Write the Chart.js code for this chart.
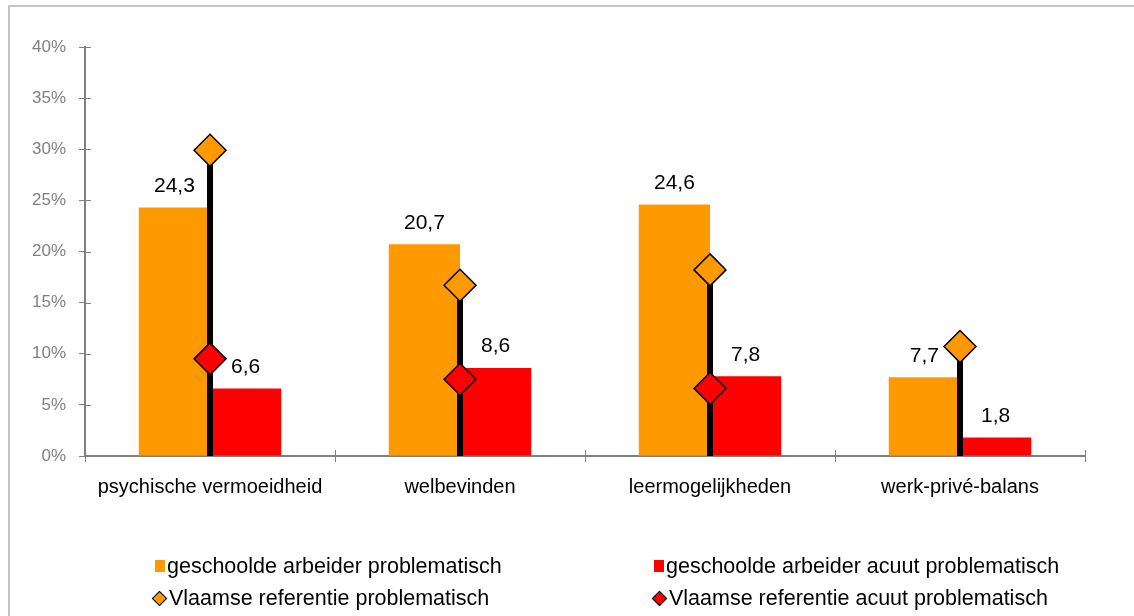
<!DOCTYPE html>
<html lang="nl">
<head>
<meta charset="UTF-8">
<title>Geschoolde arbeider - werkbaarheid</title>
<script src="https://cdn.jsdelivr.net/npm/chart.js"></script>
<style>
  body { margin: 0; background: #fff; font-family: "Liberation Sans", Arial, sans-serif; }
  #wrap { position: relative; width: 1134px; height: 616px; overflow: hidden; }
  #frame { position: absolute; left: 8px; top: 5px; width: 1200px; height: 700px;
           border-left: 2px solid #c4c4c4; border-top: 2px solid #c4c4c4; }
  #chart { position: absolute; left: 0; top: 0; }
  .item { position: absolute; font-size: 21.5px; color: #000; white-space: nowrap;
          display: flex; align-items: center; height: 24px; }
  .sq { display: inline-block; width: 10px; height: 12px; margin-right: 2px; }
  .dia { display: inline-block; width: 9px; height: 9px; border: 1.5px solid #000;
         transform: rotate(45deg); margin: 0 4px 0 2px; }
</style>
</head>
<body>
<div id="wrap">
  <div id="frame"></div>
  <canvas id="chart" width="1134" height="616"></canvas>
  <div id="legend"></div>
</div>

<script>
  const categories = ['psychische vermoeidheid', 'welbevinden', 'leermogelijkheden', 'werk-privé-balans'];
  const arbeiderProblematisch = [24.3, 20.7, 24.6, 7.7];
  const arbeiderAcuut = [6.6, 8.6, 7.8, 1.8];
  const refProblematisch = [29.9, 16.7, 18.2, 10.7];
  const refAcuut = [9.5, 7.5, 6.6, null];

  const ORANJE = '#FF9900';
  const ROOD = '#FF0000';
  const GRIJS = '#808080';

  // zwarte staaf van 0 tot de referentiewaarde, tussen de balken en de ruiten
  const stemPlugin = {
    id: 'stems',
    afterDatasetDraw(chart, args) {
      if (args.index !== 0) return;
      const { ctx, scales: { x, y } } = chart;
      ctx.save();
      ctx.strokeStyle = '#000';
      ctx.lineWidth = 6;
      refProblematisch.forEach((v, i) => {
        const px = x.getPixelForValue(i);
        ctx.beginPath();
        ctx.moveTo(px, y.getPixelForValue(0));
        ctx.lineTo(px, y.getPixelForValue(v));
        ctx.stroke();
      });
      ctx.restore();
    }
  };

  // waarden boven de balken
  const labelPlugin = {
    id: 'barLabels',
    afterDatasetsDraw(chart) {
      const ctx = chart.ctx;
      ctx.save();
      ctx.fillStyle = '#000';
      ctx.font = '21px "Liberation Sans", Arial, sans-serif';
      ctx.textAlign = 'center';
      ctx.textBaseline = 'bottom';
      [0, 1].forEach(d => {
        const meta = chart.getDatasetMeta(d);
        meta.data.forEach((bar, i) => {
          const v = chart.data.datasets[d].data[i];
          ctx.fillText(v.toFixed(1).replace('.', ','), bar.x, bar.y - 11);
        });
      });
      ctx.restore();
    }
  };

  // tickstreepjes die ook naar binnen steken
  const innerTicks = {
    id: 'innerTicks',
    afterDraw(chart) {
      const { ctx, scales: { x, y } } = chart;
      ctx.save();
      ctx.strokeStyle = GRIJS;
      ctx.lineWidth = 1;
      y.ticks.forEach((t, i) => {
        const py = Math.round(y.getPixelForTick(i)) + 0.5;
        ctx.beginPath();
        ctx.moveTo(x.left, py);
        ctx.lineTo(x.left + 6, py);
        ctx.stroke();
      });
      const bottom = y.getPixelForValue(0);
      for (let i = 0; i <= categories.length; i++) {
        const px = Math.round(x.getPixelForValue(i - 0.5)) + 0.5;
        ctx.beginPath();
        ctx.moveTo(px, bottom);
        ctx.lineTo(px, bottom - 6);
        ctx.stroke();
      }
      ctx.restore();
    }
  };

  const chart = new Chart(document.getElementById('chart'), {
    data: {
      labels: categories,
      datasets: [
        { type: 'bar', label: 'geschoolde arbeider problematisch', data: arbeiderProblematisch,
          backgroundColor: ORANJE, order: 2, categoryPercentage: 0.57, barPercentage: 1 },
        { type: 'bar', label: 'geschoolde arbeider acuut problematisch', data: arbeiderAcuut,
          backgroundColor: ROOD, order: 2, categoryPercentage: 0.57, barPercentage: 1 },
        { type: 'line', label: 'Vlaamse referentie problematisch', data: refProblematisch,
          showLine: false, pointStyle: 'rectRot', pointRadius: 16, pointHoverRadius: 16,
          pointBackgroundColor: ORANJE, pointBorderColor: '#000', pointBorderWidth: 1.5, order: 1 },
        { type: 'line', label: 'Vlaamse referentie acuut problematisch', data: refAcuut,
          showLine: false, pointStyle: 'rectRot', pointRadius: 16, pointHoverRadius: 16,
          pointBackgroundColor: ROOD, pointBorderColor: '#000', pointBorderWidth: 1.5, order: 1 }
      ]
    },
    options: {
      responsive: false,
      animation: false,
      layout: { padding: { left: 19, right: 49, top: 47, bottom: 104 } },
      plugins: { legend: { display: false }, tooltip: { enabled: false } },
      scales: {
        x: {
          offset: true,
          grid: { drawOnChartArea: false, offset: true, tickLength: 6, color: GRIJS },
          border: { color: GRIJS, width: 2 },
          ticks: { color: '#000', font: { size: 20, family: '"Liberation Sans", Arial' }, padding: 13 }
        },
        y: {
          min: 0, max: 40,
          grid: { drawOnChartArea: false, tickLength: 6, color: GRIJS },
          border: { color: GRIJS, width: 2 },
          ticks: { stepSize: 5, color: GRIJS, padding: 13,
                   font: { size: 17, family: '"Liberation Sans", Arial' },
                   callback: v => v + '%' }
        }
      }
    },
    plugins: [stemPlugin, labelPlugin, innerTicks]
  });

  // legenda in twee kolommen
  const legendPos = [[155, 554], [654, 554], [152, 586], [652, 586]];
  const legendEl = document.getElementById('legend');
  chart.data.datasets.forEach((ds, i) => {
    const item = document.createElement('div');
    item.className = 'item';
    item.style.left = legendPos[i][0] + 'px';
    item.style.top = legendPos[i][1] + 'px';
    const mark = document.createElement('span');
    if (ds.type === 'bar') {
      mark.className = 'sq';
      mark.style.background = ds.backgroundColor;
    } else {
      mark.className = 'dia';
      mark.style.background = ds.pointBackgroundColor;
    }
    item.appendChild(mark);
    item.appendChild(document.createTextNode(ds.label));
    legendEl.appendChild(item);
  });
</script>
</body>
</html>
